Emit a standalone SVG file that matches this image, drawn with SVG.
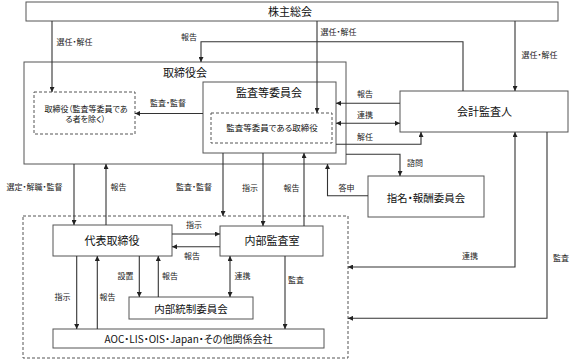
<svg xmlns="http://www.w3.org/2000/svg" width="575" height="360" viewBox="0 0 575 360">
<style>
.box{fill:#fff;stroke:#555;stroke-width:1}
.dbox{fill:none;stroke:#555;stroke-width:1;stroke-dasharray:3,2}
.t{font-family:"Noto Sans CJK JP","Liberation Sans",sans-serif;fill:#111;text-anchor:middle;font-feature-settings:"palt"}
.title{font-size:11px}
.sm{font-size:8px}
.lb{font-family:"Noto Sans CJK JP","Liberation Sans",sans-serif;font-size:8px;fill:#222;text-anchor:middle;font-feature-settings:"palt"}
.c{fill:none;stroke:#333;stroke-width:1.1}
.a{marker-end:url(#ah)}
.d{marker-start:url(#ah);marker-end:url(#ah)}
</style>
<defs>
<marker id="ah" viewBox="0 0 6 6" refX="6" refY="3" markerWidth="5" markerHeight="5" orient="auto-start-reverse" markerUnits="userSpaceOnUse"><path d="M0,0 L6,3 L0,6 z" fill="#222"/></marker>
</defs>
<rect width="575" height="360" fill="#fff"/>
<g id="group-companies"><rect class="dbox" x="23" y="216" width="325" height="142"/></g>
<g id="shareholders"><rect class="box" x="26" y="2" width="532" height="19"/><text class="t title" x="290" y="15.5">株主総会</text></g>
<g id="board"><rect class="box" x="24" y="62" width="322" height="102"/><text class="t title" x="185" y="77">取締役会</text></g>
<g id="directors"><rect class="dbox" x="34" y="92" width="101" height="42"/><text class="t sm" x="86" y="112">取締役（監査等委員であ</text><text class="t sm" x="85.5" y="122">る者を除く）</text></g>
<g id="audit-committee"><rect class="box" x="203" y="82" width="133" height="71"/><text class="t title" x="269" y="97">監査等委員会</text></g>
<g id="audit-directors"><rect class="dbox" x="211" y="113" width="121" height="30"/><text class="t" style="font-size:8.5px" x="272" y="131">監査等委員である取締役</text></g>
<g id="accounting-auditor"><rect class="box" x="400" y="91" width="168" height="41"/><text class="t title" x="484.5" y="116">会計監査人</text></g>
<g id="nomination"><rect class="box" x="368" y="176" width="116" height="41"/><text class="t" style="font-size:10.5px" x="426" y="202">指名・報酬委員会</text></g>
<g id="representative"><rect class="box" x="53" y="225" width="119" height="31"/><text class="t title" x="112" y="245">代表取締役</text></g>
<g id="internal-audit"><rect class="box" x="220" y="226" width="103" height="30"/><text class="t title" x="272" y="245">内部監査室</text></g>
<g id="internal-control"><rect class="box" x="129" y="297" width="124" height="22"/><text class="t" style="font-size:10.5px" x="191" y="312.5">内部統制委員会</text></g>
<g id="affiliates"><rect class="box" x="53" y="329" width="271" height="19"/><text class="t" style="font-size:10px" x="188.5" y="342.5">AOC・LIS・OIS・Japan・その他関係会社</text></g>
<g id="connectors">
<path class="c a" d="M52,21 V92"/>
<path class="c a" d="M463,91 V41.7 H201 V62"/>
<path class="c a" d="M317,21 V113"/>
<path class="c a" d="M515,21 V91"/>
<path class="c a" d="M203,113.5 H135"/>
<path class="c a" d="M400,103.3 H336"/>
<path class="c d" d="M336,123.3 H400"/>
<path class="c a" d="M336,144.3 H421 V132"/>
<path class="c a" d="M346,154.3 H400 V176"/>
<path class="c a" d="M368,195.7 H327.5 V164"/>
<path class="c d" d="M515,132 V267 H348"/>
<path class="c a" d="M547,132 V318.3 H348"/>
<path class="c a" d="M74,164 V225"/>
<path class="c a" d="M106,225 V164"/>
<path class="c a" d="M223,153 V216"/>
<path class="c a" d="M263,153 V226"/>
<path class="c a" d="M304,226 V153"/>
<path class="c a" d="M172,234 H220"/>
<path class="c a" d="M220,246.7 H172"/>
<path class="c a" d="M76.7,256 V329"/>
<path class="c a" d="M97.3,329 V256"/>
<path class="c a" d="M139.3,256 V297"/>
<path class="c a" d="M158.3,297 V256"/>
<path class="c d" d="M230,256 V297"/>
<path class="c a" d="M285,256 V329"/>
<text class="lb" x="74.5" y="45">選任・解任</text>
<text class="lb" x="189" y="40">報告</text>
<text class="lb" x="338.5" y="35">選任・解任</text>
<text class="lb" x="539.5" y="58">選任・解任</text>
<text class="lb" x="168" y="106">監査・監督</text>
<text class="lb" x="365" y="97">報告</text>
<text class="lb" x="365" y="118">連携</text>
<text class="lb" x="365" y="139.5">解任</text>
<text class="lb" x="415" y="166">諮問</text>
<text class="lb" x="346.5" y="190.5">答申</text>
<text class="lb" x="470" y="259">連携</text>
<text class="lb" x="561" y="260.5">監査</text>
<text class="lb" x="34.5" y="190">選定・解職・監督</text>
<text class="lb" x="118.5" y="190">報告</text>
<text class="lb" x="194" y="190">監査・監督</text>
<text class="lb" x="250" y="190.5">指示</text>
<text class="lb" x="291.5" y="190.5">報告</text>
<text class="lb" x="194" y="228">指示</text>
<text class="lb" x="192" y="259">報告</text>
<text class="lb" x="62.5" y="300">指示</text>
<text class="lb" x="107.5" y="300">報告</text>
<text class="lb" x="125.5" y="279">設置</text>
<text class="lb" x="170" y="279">報告</text>
<text class="lb" x="242.5" y="279">連携</text>
<text class="lb" x="296" y="283">監査</text>
</g>
</svg>
